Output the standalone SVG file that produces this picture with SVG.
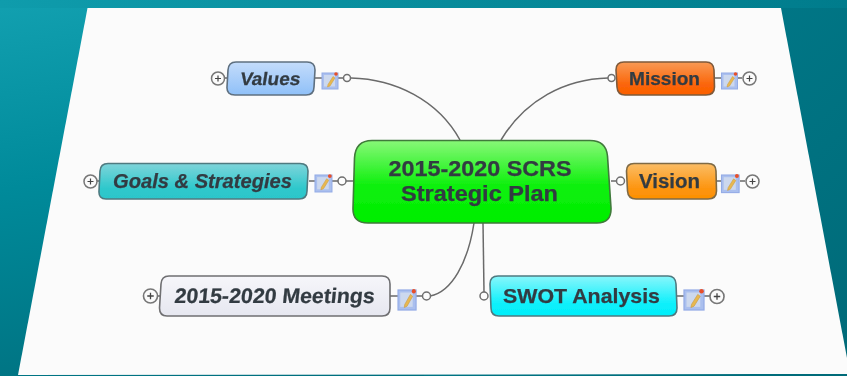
<svg xmlns="http://www.w3.org/2000/svg" xmlns:xlink="http://www.w3.org/1999/xlink" width="847" height="376" viewBox="0 0 847 376">
<style>
.box{stroke-width:1.6}
.t{font-family:"Liberation Sans",Arial,sans-serif;font-weight:bold;fill:#333b42;text-anchor:middle;stroke:#333b42;stroke-width:.25}
.i{font-style:italic}
.c{fill:none;stroke:#6a6a6a;stroke-width:1.5}
.o{fill:#fdfdfd;stroke:#6f6f6f;stroke-width:1.5}
.p{fill:#fbfbfb;stroke:#777;stroke-width:1.5}
.pl{stroke:#444;stroke-width:1.2;fill:none}
</style>
<defs>
<linearGradient id="bg" x1="0" y1="0" x2="0.35" y2="1"><stop offset="0" stop-color="#12a0b0"/><stop offset=".45" stop-color="#008a9a"/><stop offset="1" stop-color="#00707f"/></linearGradient>
<linearGradient id="bgr" x1="0" y1="0" x2="1" y2="1"><stop offset="0" stop-color="#007f90"/><stop offset="1" stop-color="#006a78"/></linearGradient>
<linearGradient id="top" x1="0" y1="0" x2="1" y2="0"><stop offset="0" stop-color="#0f9cac"/><stop offset="1" stop-color="#007c8c"/></linearGradient>
<linearGradient id="gv" x1="0" y1="0" x2="0" y2="1"><stop offset="0" stop-color="#c4dcfb"/><stop offset="1" stop-color="#8fc0f8"/></linearGradient>
<linearGradient id="gg" x1="0" y1="0" x2="0" y2="1"><stop offset="0" stop-color="#7fd4da"/><stop offset=".7" stop-color="#2ec8cc"/><stop offset="1" stop-color="#2cc6ca"/></linearGradient>
<linearGradient id="gm" x1="0" y1="0" x2="0" y2="1"><stop offset="0" stop-color="#f99a55"/><stop offset=".7" stop-color="#fb6408"/><stop offset="1" stop-color="#fb6000"/></linearGradient>
<linearGradient id="gi" x1="0" y1="0" x2="0" y2="1"><stop offset="0" stop-color="#fbbd66"/><stop offset=".7" stop-color="#fd9510"/><stop offset="1" stop-color="#fd9000"/></linearGradient>
<linearGradient id="ge" x1="0" y1="0" x2="0" y2="1"><stop offset="0" stop-color="#f6f6fa"/><stop offset="1" stop-color="#e6e7f0"/></linearGradient>
<linearGradient id="gs" x1="0" y1="0" x2="0" y2="1"><stop offset="0" stop-color="#88f6fb"/><stop offset=".7" stop-color="#0cf0fb"/><stop offset="1" stop-color="#00eefa"/></linearGradient>
<linearGradient id="gc" x1="0" y1="0" x2="0" y2="1"><stop offset="0" stop-color="#88f878"/><stop offset=".55" stop-color="#0cf00c"/><stop offset="1" stop-color="#00ee00"/></linearGradient>
<filter id="soft" x="-5%" y="-5%" width="110%" height="110%"><feGaussianBlur stdDeviation="0.5"/></filter>
<g id="note">
<rect x="0" y="0" width="16" height="16" fill="#aabfee" stroke="#94ace6" stroke-width="1"/>
<rect x="2" y="2" width="11" height="11.500" fill="#ccd8ee"/>
<path d="M11 3.500 L13 5 L8 13 L5.500 14 L6 11.500 Z" fill="#e8b850" stroke="#c99a40" stroke-width=".5"/>
<circle cx="14" cy="1" r="1.800" fill="#e8502a"/>
</g>
<g id="plus"><circle r="6.500" class="p"/><path d="M-3 0H3M0-3V3" class="pl"/></g>
</defs>
<rect width="847" height="376" fill="url(#bg)"/>
<rect x="424" width="423" height="376" fill="url(#bgr)"/>
<rect width="847" height="8" fill="url(#top)"/>
<polygon points="87.500,8 781,8 847,358 847,374 18,375" fill="#fbfbfb"/>
<g filter="url(#soft)">
<g id="connectors">
<path class="c" d="M351 78 C395 79 438 100 460 140"/>
<path class="c" d="M608 78 C565 79 525 100 501 140"/>
<path class="c" d="M430 296 C452 292 468 262 474 223"/>
<path class="c" d="M483 223 L484 292"/>
<path class="c" d="M346 181 H354"/>
<path class="c" d="M611 181 H617"/>
<path class="c" d="M315 78 H322 M338 78 H343"/>
<path class="c" d="M309 181 H315 M332 181 H338"/>
<path class="c" d="M390 296 H398 M416 296 H422"/>
<path class="c" d="M714 78 H721 M738 78 H742"/>
<path class="c" d="M716 181 H721 M740 181 H745"/>
<path class="c" d="M677 296 H684 M704 296 H710"/>
<path class="c" d="M225 78 H228 M97 181 H100 M157 296 H160"/>
</g>
<g id="center">
<path class="box" fill="url(#gc)" stroke="#3f7a3a" d="M372 140.500 H590 Q606 140.500 607.500 156 L611 208 Q611.500 223 597 223 H368 Q352.500 223 353 208 L354.500 158 Q355.500 140.500 372 140.500 Z"/>
<text class="t" x="480" y="176" font-size="22" textLength="183" lengthAdjust="spacingAndGlyphs">2015-2020 SCRS</text>
<text class="t" x="479.500" y="201" font-size="22" textLength="157" lengthAdjust="spacingAndGlyphs">Strategic Plan</text>
</g>
<g id="values">
<path class="box" fill="url(#gv)" stroke="#5f7080" d="M236 62 H307 Q315 62 315 70 L314 87 Q314 95 306 95 H235 Q226.500 95 227 87 L228 70 Q228.500 62 236 62 Z"/>
<text class="t" transform="translate(269.500 84.500) skewX(-9)" font-size="18" textLength="60" lengthAdjust="spacingAndGlyphs">Values</text>
<use xlink:href="#note" href="#note" x="322" y="73"/><circle class="o" cx="347" cy="78" r="3.500"/><use xlink:href="#plus" href="#plus" x="218" y="78.500"/>
</g>
<g id="goals">
<path class="box" fill="url(#gg)" stroke="#4f7a80" d="M108 163.500 H300 Q308 163.500 308 171 L307 191 Q307 199 299 199 H106 Q98.500 199 99 191 L100 171 Q100.500 163.500 108 163.500 Z"/>
<text class="t i" x="202.500" y="187.500" font-size="20" textLength="179" lengthAdjust="spacingAndGlyphs">Goals &amp; Strategies</text>
<use xlink:href="#note" href="#note" transform="translate(315 175) scale(1.060)"/><circle class="o" cx="342" cy="181" r="4"/><use xlink:href="#plus" href="#plus" x="90.500" y="181.500"/>
</g>
<g id="meetings">
<path class="box" fill="url(#ge)" stroke="#6f6f72" d="M169 276 H382 Q390 276 390 284 V308 Q390 316 382 316 H167 Q159.500 316 159.500 308 L161 284 Q161.500 276 169 276 Z"/>
<text class="t" transform="translate(274 302.500) skewX(-6)" font-size="21" textLength="200" lengthAdjust="spacingAndGlyphs">2015-2020 Meetings</text>
<use xlink:href="#note" href="#note" transform="translate(398 290) scale(1.130 1.250)"/><circle class="o" cx="426.500" cy="296" r="4"/><use xlink:href="#plus" href="#plus" transform="translate(150.500 296) scale(1.080)"/>
</g>
<g id="mission">
<path class="box" fill="url(#gm)" stroke="#7f5a3a" d="M624 62 H706 Q713.500 62 714 70 L714.500 87 Q714.500 95 706 95 H625 Q617.500 95 617 87 L616 70 Q616 62 624 62 Z"/>
<text class="t" x="664.500" y="84.500" font-size="18" textLength="71" lengthAdjust="spacingAndGlyphs">Mission</text>
<use xlink:href="#note" href="#note" x="721.500" y="73"/><circle class="o" cx="611.500" cy="78" r="3.500"/><use xlink:href="#plus" href="#plus" x="749.500" y="78.500"/>
</g>
<g id="vision">
<path class="box" fill="url(#gi)" stroke="#7f6a45" d="M634 163.500 H708 Q716 163.500 716 171 L716.500 191 Q716.500 199 708 199 H636 Q628 199 627.500 191 L626.500 171 Q626.500 163.500 634 163.500 Z"/>
<text class="t" x="669.500" y="188" font-size="20" textLength="61" lengthAdjust="spacingAndGlyphs">Vision</text>
<use xlink:href="#note" href="#note" transform="translate(721.500 175) scale(1.100)"/><circle class="o" cx="620.500" cy="181" r="4"/><use xlink:href="#plus" href="#plus" x="752.500" y="181.500"/>
</g>
<g id="swot">
<path class="box" fill="url(#gs)" stroke="#4f7a80" d="M498 276 H668 Q675.500 276 676 284 L677 308 Q677 316 669 316 H499 Q491 316 491 308 L490 284 Q490 276 498 276 Z"/>
<text class="t" x="581.500" y="302.500" font-size="21" textLength="157" lengthAdjust="spacingAndGlyphs">SWOT Analysis</text>
<use xlink:href="#note" href="#note" transform="translate(684 290) scale(1.250)"/><circle class="o" cx="484" cy="296" r="4"/><use xlink:href="#plus" href="#plus" transform="translate(717 296.500) scale(1.080)"/>
</g>
</g>
</svg>
